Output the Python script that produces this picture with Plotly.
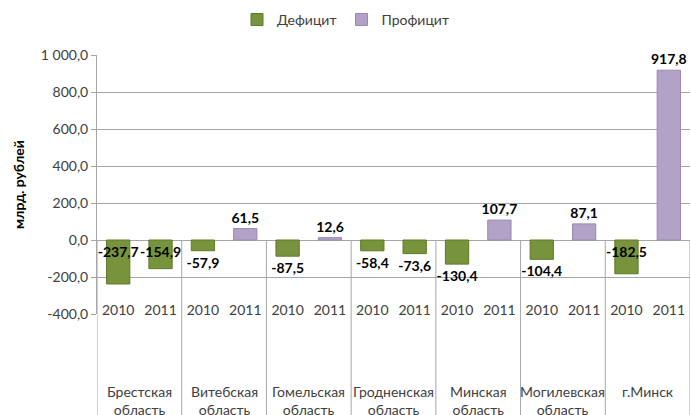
import plotly.graph_objects as go

# regions and years
regions = ["Брестская<br>область", "Витебская<br>область", "Гомельская<br>область",
           "Гродненская<br>область", "Минская<br>область", "Могилевская<br>область", "г.Минск"]
years = ["2010", "2011"]

# values by region: [2010, 2011]
values = [
    [-237.7, -154.9],
    [-57.9, 61.5],
    [-87.5, 12.6],
    [-58.4, -73.6],
    [-130.4, 107.7],
    [-104.4, 87.1],
    [-182.5, 917.8],
]

y_ticks = [-400, -200, 0, 200, 400, 600, 800, 1000]
y_ticktext = ["-400,0", "-200,0", "0,0", "200,0", "400,0", "600,0", "800,0", "1 000,0"]

FONT = "Lato, 'Open Sans', sans-serif"
GREEN = "#77933C"
PURPLE = "#B3A2C7"
GRID = "#a6a6a6"

x_pos, flat = [], []
for i, pair in enumerate(values):
    for j, v in enumerate(pair):
        x_pos.append(2 * i + j)
        flat.append(v)

def fmt(v):
    return f"{v:.1f}".replace(".", ",")

deficit = [v if v < 0 else None for v in flat]
surplus = [v if v >= 0 else None for v in flat]
# the big deficit bars carry their label inside near the axis
def_pos = ["inside" if (v is not None and v < -150) else "outside" for v in deficit]

label_font = dict(family=FONT, size=14, color="black", weight="bold")

fig = go.Figure()
fig.add_trace(go.Bar(
    x=x_pos, y=deficit, name="Дефицит", width=0.55,
    marker=dict(color=GREEN, line=dict(color="#5e7a2a", width=1)),
    text=[fmt(v) if v is not None else "" for v in deficit],
    textposition=def_pos, insidetextanchor="start", constraintext="none", textangle=0,
    textfont=label_font, insidetextfont=label_font, outsidetextfont=label_font,
    cliponaxis=False,
))
fig.add_trace(go.Bar(
    x=x_pos, y=surplus, name="Профицит", width=0.55,
    marker=dict(color=PURPLE, line=dict(color="#9a88b0", width=1)),
    text=[fmt(v) if v is not None else "" for v in surplus],
    textposition="outside", constraintext="none", textangle=0,
    textfont=label_font,
    cliponaxis=False,
))
# invisible trace so the year axis gets drawn
fig.add_trace(go.Scatter(
    x=x_pos, y=flat, xaxis="x2", mode="markers", marker=dict(opacity=0),
    showlegend=False, hoverinfo="skip",
))

y_min, y_max = -400, 1000
zero_paper = (0 - y_min) / (y_max - y_min)
x_range = [-0.5, 2 * len(regions) - 0.5]

# region separators below the zero line
for k in range(len(regions) + 1):
    fig.add_shape(type="line", xref="x", yref="paper",
                  x0=2 * k - 0.5, x1=2 * k - 0.5, y0=zero_paper, y1=-0.6,
                  line=dict(color=GRID, width=1), layer="below")

# region names
for i, r in enumerate(regions):
    fig.add_annotation(x=2 * i + 0.5, xref="x", y=0, yref="paper", yanchor="top",
                       yshift=-67, text=r, showarrow=False,
                       font=dict(family=FONT, size=14, color="#404040"))

fig.update_layout(
    width=691, height=415,
    margin=dict(l=97, r=1, t=55, b=101),
    paper_bgcolor="white", plot_bgcolor="white",
    barmode="overlay",
    font=dict(family=FONT, size=14, color="#404040"),
    legend=dict(orientation="h", xref="container", x=0.5, xanchor="center",
                yref="container", y=0.952, yanchor="middle",
                font=dict(family=FONT, size=14, color="#404040")),
    xaxis=dict(range=x_range, showticklabels=False, showgrid=False, zeroline=False,
               showline=False, ticks=""),
    # year labels sit just above the bottom gridline
    xaxis2=dict(range=x_range, overlaying="x", anchor="free", position=0.055, side="bottom",
                tickvals=x_pos, ticktext=[years[x % 2] for x in x_pos],
                showgrid=False, zeroline=False, showline=False, ticks="",
                tickfont=dict(family=FONT, size=14, color="#404040")),
    yaxis=dict(range=[y_min, y_max], tickvals=y_ticks, ticktext=y_ticktext,
               showgrid=True, gridcolor=GRID, gridwidth=1,
               zeroline=True, zerolinecolor=GRID, zerolinewidth=1,
               showline=True, linecolor=GRID, ticks="outside", ticklen=5, tickcolor=GRID,
               tickfont=dict(family=FONT, size=14, color="#404040"),
               title=dict(text="<b>млрд. рублей</b>", standoff=12,
                          font=dict(family=FONT, size=14, color="black"))),
)

fig.write_html("out.html", config={"displayModeBar": False},
               post_script="document.body.style.margin='0';")
